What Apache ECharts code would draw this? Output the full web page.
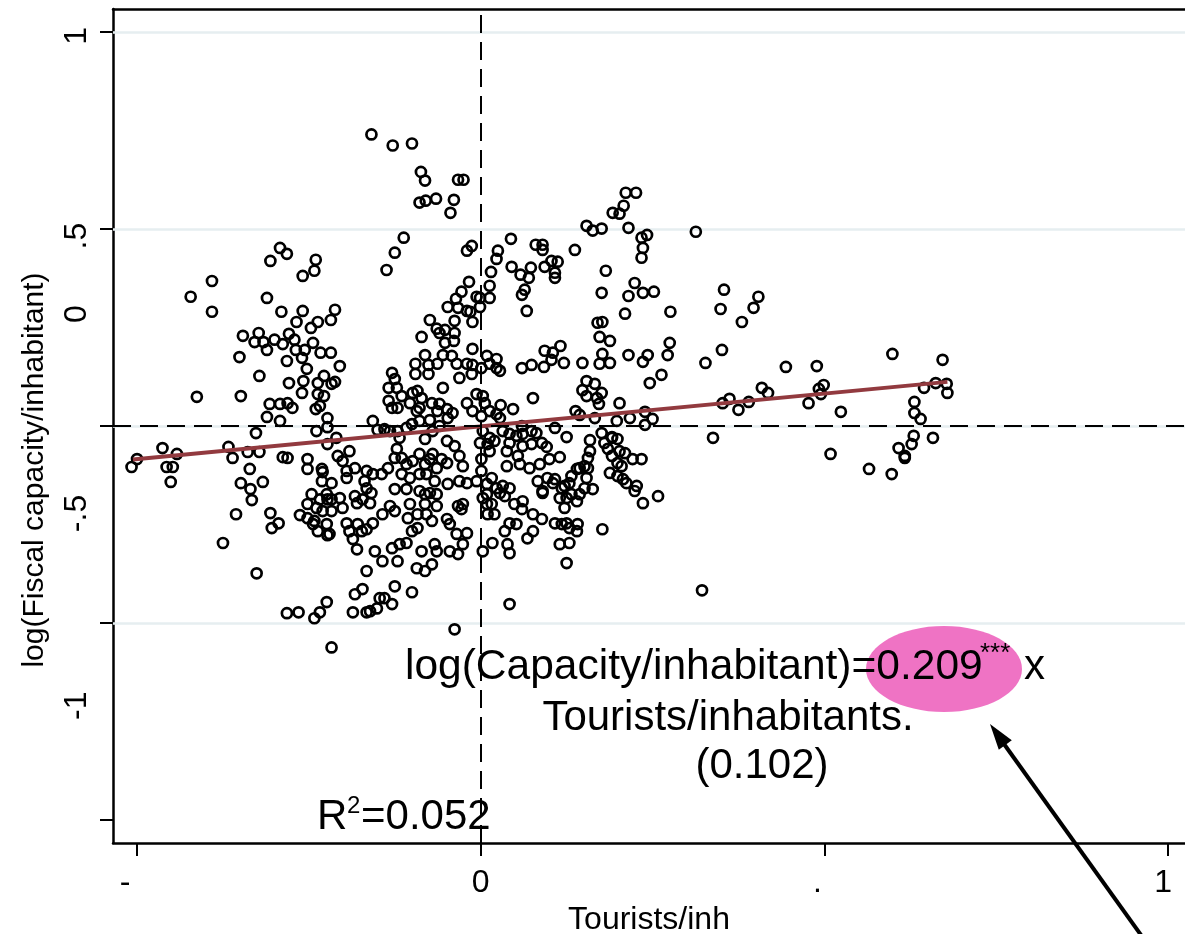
<!DOCTYPE html>
<html>
<head>
<meta charset="utf-8">
<script src="https://cdn.jsdelivr.net/npm/echarts@6/dist/echarts.min.js"></script>
<style>
html,body{margin:0;padding:0;background:#fff;}
#chart{width:1185px;height:934px;}
</style>
</head>
<body>
<div id="chart"></div>
<script>
// ---------------- DATA ----------------
// [tourists per inhabitant, log(fiscal capacity / inhabitant)]
const municipalities = [
[-0.159,0.740],[-0.128,0.712],[-0.100,0.717],[-0.087,0.645],[-0.081,0.623],[-0.033,0.625],[-0.025,0.625],
[-0.089,0.567],[-0.080,0.572],[-0.065,0.577],[-0.039,0.574],[-0.044,0.541],[-0.112,0.478],[-0.125,0.440],
[-0.137,0.396],[-0.020,0.445],[-0.013,0.457],
[-0.292,0.452],[-0.282,0.437],[-0.306,0.419],[-0.240,0.422],[-0.242,0.394],[-0.259,0.381],[-0.391,0.368],
[-0.422,0.328],[-0.391,0.290],[-0.311,0.325],[-0.290,0.290],[-0.259,0.292],[-0.268,0.264],[-0.212,0.295],
[-0.218,0.269],[-0.237,0.264],[-0.247,0.249],
[-0.346,0.229],[-0.323,0.236],[-0.329,0.213],[-0.316,0.213],[-0.300,0.219],[-0.288,0.208],[-0.279,0.234],
[-0.271,0.219],[-0.256,0.193],[-0.244,0.211],[-0.233,0.186],[-0.218,0.186],[-0.311,0.193],[-0.269,0.193],
[-0.351,0.175],[-0.282,0.165],[-0.260,0.173],[-0.253,0.145],[-0.205,0.152],[-0.322,0.127],[-0.279,0.109],
[-0.258,0.114],[-0.237,0.109],[-0.228,0.127],[-0.217,0.107],[-0.212,0.112],[-0.260,0.084],[-0.237,0.081],
[-0.228,0.076],[-0.413,0.074],[-0.349,0.076],
[-0.017,0.366],[-0.028,0.341],[-0.036,0.323],[-0.048,0.302],[-0.033,0.300],[-0.020,0.292],[-0.015,0.290],
[-0.006,0.328],[-0.001,0.325],[0.013,0.325],[0.013,0.356],[0.015,0.391],[0.023,0.424],[0.025,0.445],
[-0.001,0.302],[-0.012,0.264],[-0.038,0.267],[-0.052,0.244],[-0.064,0.247],[-0.074,0.269],
[0.044,0.475],[0.045,0.404],[0.058,0.384],[0.070,0.376],[0.073,0.402],[0.080,0.460],[0.090,0.460],
[0.090,0.447],[0.093,0.404],[0.103,0.419],[0.112,0.417],[0.108,0.389],[0.108,0.376],[0.137,0.447],
[0.154,0.508],[0.163,0.496],[0.176,0.501],[0.192,0.541],[0.202,0.539],[0.208,0.559],[0.211,0.592],
[0.226,0.592],[0.215,0.503],[0.234,0.478],[0.242,0.485],[0.236,0.452],[0.234,0.427],[0.313,0.493],
[0.182,0.394],[0.224,0.363],[0.236,0.338],[0.252,0.341],[0.215,0.330],[0.176,0.338],[0.210,0.285],
[0.276,0.290],[0.170,0.262],[0.177,0.264],[0.060,0.333],[0.064,0.346],[0.067,0.292],[0.349,0.297],
[0.354,0.346],[0.380,0.264],[0.397,0.300],[0.404,0.328],
[0.327,0.160],[0.351,0.193],[0.444,0.150],[0.489,0.152],[0.599,0.183],[0.672,0.168],[0.352,0.058],
[0.362,0.069],[0.375,0.041],[0.390,0.061],[0.409,0.097],[0.418,0.084],[0.477,0.058],[0.492,0.094],
[0.499,0.104],[0.495,0.081],[0.524,0.036],[0.645,0.097],[0.662,0.109],[0.678,0.107],[0.679,0.084],
[0.631,0.061],[0.631,0.033],[0.640,0.018],[0.338,-0.030],[0.509,-0.071],[0.565,-0.109],[0.598,-0.122],
[0.608,-0.056],[0.617,-0.076],[0.617,-0.081],[0.627,-0.046],[0.630,-0.025],[0.658,-0.030],[0.322,-0.417],
[-0.086,0.226],[-0.060,0.236],[-0.052,0.211],[-0.039,0.216],[-0.038,0.236],[-0.012,0.196],[0.009,0.178],
[0.023,0.170],[-0.081,0.180],[-0.095,0.158],[-0.095,0.132],[-0.076,0.155],[-0.076,0.132],[-0.063,0.158],
[-0.055,0.180],[-0.042,0.178],[-0.035,0.158],[-0.031,0.122],[-0.020,0.158],[-0.012,0.155],[-0.013,0.132],
[0.001,0.147],[0.013,0.158],[0.023,0.147],
[-0.129,0.135],[-0.125,0.119],[-0.134,0.097],[-0.122,0.097],[-0.115,0.076],[-0.134,0.064],[-0.129,0.046],
[-0.121,0.046],[-0.099,0.084],[-0.092,0.089],[-0.086,0.071],[-0.103,0.058],[-0.093,0.038],[-0.089,0.046],
[-0.071,0.058],[-0.063,0.038],[-0.060,0.056],[-0.049,0.043],[-0.041,0.033],[-0.048,0.020],[-0.055,0.097],
[-0.020,0.058],[-0.012,0.038],[-0.006,0.081],[0.003,0.076],[0.006,0.058],[0.001,0.025],[0.013,0.038],
[0.023,0.030],
[-0.157,0.013],[-0.150,-0.010],[-0.140,-0.008],[-0.132,-0.013],[-0.121,-0.013],[-0.118,-0.030],[-0.108,-0.005],
[-0.100,0.005],[-0.089,0.013],[-0.074,0.015],[-0.081,-0.033],[-0.070,-0.013],[-0.060,0.000],[-0.049,-0.038],
[-0.038,-0.051],[0.003,-0.013],[0.013,-0.030],[-0.001,-0.043],[0.010,-0.046],[0.020,-0.038],[-0.210,-0.030],
[-0.208,-0.076],[-0.191,-0.064],[-0.201,-0.089],[-0.183,-0.107],[-0.195,-0.114],[-0.195,-0.132],[-0.166,-0.114],
[-0.157,-0.122],[-0.169,-0.140],[-0.166,-0.158],[-0.144,-0.122],[-0.135,-0.107],[-0.125,-0.081],[-0.122,-0.058],
[-0.115,-0.081],[-0.108,-0.097],[-0.099,-0.089],[-0.089,-0.071],[-0.089,-0.122],[-0.081,-0.097],[-0.074,-0.084],
[-0.070,-0.071],[-0.064,-0.107],[-0.057,-0.084],[-0.049,-0.094],[-0.031,-0.076],[-0.026,-0.102],[-0.031,-0.140],
[-0.020,-0.145],[-0.006,-0.140],[0.001,-0.114],[0.001,-0.084],[0.013,-0.064],[0.016,-0.132],[0.009,-0.147],
[0.023,-0.158],[-0.067,-0.140],[-0.048,-0.147],[-0.079,-0.122],[-0.103,-0.132],[-0.115,-0.122],[-0.217,-0.145],
[-0.217,-0.186],[-0.205,-0.183],[-0.201,-0.208],[-0.183,-0.178],[-0.180,-0.196],[-0.172,-0.186],[-0.161,-0.196],
[-0.159,-0.170],[-0.125,-0.160],[-0.108,-0.160],[-0.089,-0.165],[-0.081,-0.173],[-0.074,-0.170],[-0.064,-0.173],
[-0.064,-0.203],[-0.081,-0.198],[-0.103,-0.198],[-0.092,-0.224],[-0.079,-0.224],[-0.106,-0.234],[-0.143,-0.224],
[-0.125,-0.216],[-0.132,-0.203],[-0.033,-0.203],[-0.028,-0.211],[-0.026,-0.198],[0.003,-0.183],[0.009,-0.198],
[0.010,-0.224],[0.016,-0.198],[0.020,-0.224],[0.009,-0.173],
[-0.195,-0.247],[-0.191,-0.267],[-0.186,-0.287],[-0.179,-0.249],[-0.173,-0.267],[-0.166,-0.262],[-0.157,-0.247],
[-0.180,-0.313],[-0.154,-0.318],[-0.129,-0.310],[-0.143,-0.343],[-0.121,-0.343],[-0.118,-0.300],[-0.108,-0.297],
[-0.100,-0.267],[-0.092,-0.259],[-0.086,-0.318],[-0.093,-0.361],[-0.081,-0.368],[-0.071,-0.351],[-0.071,-0.241],
[-0.067,-0.300],[-0.049,-0.236],[-0.045,-0.249],[-0.064,-0.318],[-0.045,-0.318],[-0.033,-0.325],[-0.026,-0.300],
[-0.020,-0.272],[-0.035,-0.274],[0.003,-0.318],[0.017,-0.297],[-0.220,-0.274],[-0.217,-0.216],
[-0.166,-0.368],[-0.183,-0.427],[-0.172,-0.414],[-0.147,-0.437],[-0.129,-0.452],[-0.125,-0.407],[-0.100,-0.422],
[-0.186,-0.473],[-0.166,-0.473],[-0.161,-0.470],[-0.151,-0.463],[-0.140,-0.437],[-0.038,-0.516],
[-0.307,0.056],[-0.292,0.056],[-0.281,0.058],[-0.274,0.046],[-0.311,0.023],[-0.292,0.013],[-0.327,-0.018],
[-0.463,-0.056],[-0.442,-0.071],[-0.500,-0.084],[-0.508,-0.104],[-0.457,-0.104],[-0.448,-0.104],[-0.451,-0.142],
[-0.367,-0.053],[-0.361,-0.081],[-0.339,-0.066],[-0.322,-0.066],[-0.336,-0.109],[-0.349,-0.145],[-0.335,-0.160],
[-0.333,-0.188],[-0.317,-0.142],[-0.288,-0.079],[-0.281,-0.081],[-0.356,-0.224],[-0.306,-0.221],[-0.294,-0.247],
[-0.304,-0.259],[-0.375,-0.297],[-0.326,-0.374],[-0.282,-0.475],[-0.265,-0.473],[-0.242,-0.488],[-0.234,-0.473],
[-0.224,-0.447],[-0.234,0.051],[-0.240,0.043],[-0.223,0.020],[-0.223,-0.003],[-0.239,-0.013],[-0.223,-0.046],
[-0.252,-0.084],[-0.252,-0.109],[-0.231,-0.109],[-0.230,-0.117],[-0.231,-0.140],[-0.246,-0.173],[-0.252,-0.198],
[-0.224,-0.173],[-0.223,-0.186],[-0.234,-0.186],[-0.239,-0.208],[-0.230,-0.216],[-0.263,-0.226],[-0.252,-0.234],
[-0.242,-0.241],[-0.244,-0.249],[-0.224,-0.249],[-0.237,-0.267],[-0.223,-0.277],[-0.217,-0.562],
[0.173,0.226],[0.188,0.216],[0.093,0.191],[0.105,0.186],[0.116,0.203],[0.103,0.168],[0.121,0.160],
[0.092,0.150],[0.074,0.155],[0.060,0.147],[0.028,0.140],[0.148,0.160],[0.177,0.183],[0.173,0.158],
[0.188,0.160],[0.215,0.180],[0.236,0.163],[0.243,0.180],[0.275,0.211],[0.272,0.180],[0.263,0.130],
[0.246,0.109],[0.154,0.114],[0.166,0.107],[0.148,0.091],[0.154,0.076],[0.176,0.084],[0.169,0.071],
[0.172,0.056],[0.076,0.071],[0.029,0.053],[0.047,0.043],[0.028,0.020],[0.202,0.058],[0.138,0.038],
[0.144,0.028],[0.166,0.020],[0.198,0.013],[0.217,0.020],[0.239,0.036],[0.250,0.018],[0.239,0.003],
[0.060,0.000],[0.108,-0.005],[0.125,-0.028],[0.159,-0.036],[0.176,-0.018],[0.191,-0.028],
[0.032,-0.013],[0.042,-0.020],[0.052,-0.025],[0.061,-0.020],[0.074,-0.013],[0.081,-0.018],[0.042,-0.043],
[0.061,-0.051],[0.074,-0.046],[0.089,-0.043],[0.096,-0.053],[0.038,-0.064],[0.054,-0.076],[0.057,-0.097],
[0.071,-0.107],[0.038,-0.102],[0.032,-0.152],[0.042,-0.158],[0.028,-0.170],[0.035,-0.178],[0.049,-0.198],
[0.061,-0.191],[0.060,-0.211],[0.076,-0.224],[0.089,-0.236],[0.076,-0.267],[0.068,-0.285],[0.052,-0.249],
[0.042,-0.247],[0.035,-0.267],[0.039,-0.300],[0.042,-0.323],[0.083,-0.140],[0.097,-0.132],[0.105,-0.145],
[0.090,-0.165],[0.100,-0.084],[0.115,-0.079],[0.086,-0.097],
[0.159,-0.064],[0.156,-0.081],[0.151,-0.102],[0.144,-0.107],[0.140,-0.109],[0.132,-0.127],[0.129,-0.145],
[0.122,-0.152],[0.118,-0.158],[0.115,-0.183],[0.125,-0.183],[0.122,-0.208],[0.132,-0.173],[0.140,-0.191],
[0.144,-0.173],[0.151,-0.158],[0.154,-0.132],[0.156,-0.107],[0.163,-0.160],[0.108,-0.247],[0.118,-0.249],
[0.125,-0.247],[0.129,-0.259],[0.141,-0.249],[0.140,-0.267],[0.115,-0.300],[0.129,-0.297],[0.125,-0.348],
[0.177,-0.262],[0.090,-0.170],[0.108,-0.135],
[0.180,-0.043],[0.191,-0.030],[0.199,-0.033],[0.185,-0.058],[0.191,-0.076],[0.202,-0.064],[0.210,-0.069],
[0.199,-0.094],[0.205,-0.102],[0.221,-0.084],[0.234,-0.084],[0.188,-0.119],[0.199,-0.127],[0.207,-0.135],
[0.212,-0.145],[0.227,-0.152],[0.224,-0.165],[0.236,-0.196],[0.258,-0.178],[0.042,-0.452]
];

// fitted line (two end points)
const fitLine = [[-0.506, -0.085], [0.679, 0.112]];

// axes
const xTickValues = [-0.5, 0, 0.5, 1];
const xTickLabels = ['-', '0', '.', '1'];
const yTickValues = [-1, -0.5, 0, 0.5, 1];
const yLabelValues = [0.99, 0.482, 0.284, -0.222, -0.710];
const yLabelTexts = ['1', '.5', '0', '-.5', '-1'];
const gridLineValues = [1, 0.5, 0, -0.5];

const xTitle = 'Tourists/inh';
const yTitle = 'log(Fiscal capacity/inhabitant)';
const eqLine1 = 'log(Capacity/inhabitant)=0.209';
const eqStars = '***';
const eqX = 'x';
const eqLine2 = 'Tourists/inhabitants.';
const eqLine3 = '(0.102)';
const r2Text = ['R', '2', '=0.052'];

// ---------------- CHART ----------------
const FONT = '"Liberation Sans", Arial, Helvetica, sans-serif';
const chart = echarts.init(document.getElementById('chart'), null, {renderer: 'canvas'});

const xLabelStyle = {fontFamily: FONT, fontSize: 32, color: '#000'};

const option = {
  backgroundColor: '#fff',
  animation: false,
  grid: {
    left: 113, top: 9, width: 1072, height: 834,
    outerBoundsMode: 'none', containLabel: false, show: false
  },
  xAxis: [{
    type: 'value', min: -0.535, max: 1.0247,
    axisLine: {show: true, onZero: false, lineStyle: {color: '#000', width: 2.5}},
    axisTick: {show: true, customValues: xTickValues, length: 13, lineStyle: {color: '#000', width: 2}},
    axisLabel: {
      show: true, customValues: xTickValues, margin: 24,
      fontFamily: FONT, fontSize: 32, color: '#000',
      formatter: function (v) {
        const i = xTickValues.findIndex(t => Math.abs(t - v) < 1e-6);
        const s = i >= 0 ? xTickLabels[i] : '';
        return '{p' + i + '|' + s + '}';
      },
      rich: {
        p0: Object.assign({padding: [0, 24, 0, 0]}, xLabelStyle),
        p1: Object.assign({padding: [0, 0, 0, 0]}, xLabelStyle),
        p2: Object.assign({padding: [0, 14, 0, 0]}, xLabelStyle),
        p3: Object.assign({padding: [0, 10, 0, 0]}, xLabelStyle)
      }
    },
    splitLine: {show: false},
    name: xTitle, nameLocation: 'middle', nameGap: 58,
    nameTextStyle: {fontFamily: FONT, fontSize: 32, color: '#000'}
  }, {
    type: 'value', position: 'top', min: -0.535, max: 1.0247,
    axisLine: {show: true, onZero: false, lineStyle: {color: '#000', width: 2.5}},
    axisTick: {show: false}, axisLabel: {show: false}, splitLine: {show: false}
  }],
  yAxis: {
    type: 'value', min: -1.0584, max: 1.0584,
    axisLine: {show: true, onZero: false, lineStyle: {color: '#000', width: 2.5}},
    axisTick: {show: true, customValues: yTickValues, length: 13, lineStyle: {color: '#000', width: 2}},
    axisLabel: {
      show: true, customValues: yLabelValues, rotate: 90, margin: 20,
      fontFamily: FONT, fontSize: 32, color: '#000',
      formatter: function (v) {
        let best = 0, bd = 1e9;
        yLabelValues.forEach((t, i) => { const d = Math.abs(t - v); if (d < bd) { bd = d; best = i; } });
        return yLabelTexts[best];
      }
    },
    splitLine: {show: false}
  },
  series: [
    {
      type: 'scatter',
      data: municipalities,
      symbol: 'circle',
      symbolSize: 10,
      itemStyle: {color: 'rgba(255,255,255,0)', borderColor: '#000', borderWidth: 2.7, opacity: 1},
      z: 3,
      silent: true,
      markLine: {
        silent: true, symbol: 'none', animation: false,
        label: {show: false},
        data: gridLineValues.map(v => ({yAxis: v, lineStyle: {color: '#e6eef0', width: 2.5, type: 'solid'}})),
        z: 1
      }
    },
    {
      type: 'line',
      data: [],
      silent: true,
      z: 2,
      markLine: {
        silent: true, symbol: 'none', animation: false,
        label: {show: false},
        lineStyle: {color: '#000', width: 2, type: [18, 9]},
        data: [{xAxis: 0}, {yAxis: 0}]
      }
    },
    {
      type: 'line',
      data: fitLine,
      showSymbol: false,
      symbol: 'none',
      lineStyle: {color: '#923a3f', width: 4},
      z: 4,
      silent: true
    }
  ],
  graphic: [
    {type: 'text', x: 35, y: 470, rotation: Math.PI / 2,
     style: {text: yTitle, font: '30px ' + FONT, fill: '#000', textAlign: 'center', textVerticalAlign: 'middle', verticalAlign: 'middle'}},
    {type: 'ellipse', shape: {cx: 944, cy: 669, rx: 78, ry: 43}, style: {fill: '#ef73c4'}, z: 50},
    {type: 'text', x: 405, y: 667, z: 60,
     style: {text: eqLine1, font: '42.5px ' + FONT, fill: '#000', textAlign: 'left', textVerticalAlign: 'middle', verticalAlign: 'middle'}},
    {type: 'text', x: 980, y: 654, z: 60,
     style: {text: eqStars, font: '26px ' + FONT, fill: '#000', textAlign: 'left', textVerticalAlign: 'middle', verticalAlign: 'middle'}},
    {type: 'text', x: 1024, y: 667, z: 60,
     style: {text: eqX, font: '42px ' + FONT, fill: '#000', textAlign: 'left', textVerticalAlign: 'middle', verticalAlign: 'middle'}},
    {type: 'text', x: 728, y: 718, z: 60,
     style: {text: eqLine2, font: '42px ' + FONT, fill: '#000', textAlign: 'center', textVerticalAlign: 'middle', verticalAlign: 'middle'}},
    {type: 'text', x: 762, y: 766, z: 60,
     style: {text: eqLine3, font: '42px ' + FONT, fill: '#000', textAlign: 'center', textVerticalAlign: 'middle', verticalAlign: 'middle'}},
    {type: 'text', x: 317, y: 817, z: 60,
     style: {text: r2Text[0], font: '42px ' + FONT, fill: '#000', textAlign: 'left', textVerticalAlign: 'middle', verticalAlign: 'middle'}},
    {type: 'text', x: 347, y: 806, z: 60,
     style: {text: r2Text[1], font: '24px ' + FONT, fill: '#000', textAlign: 'left', textVerticalAlign: 'middle', verticalAlign: 'middle'}},
    {type: 'text', x: 361, y: 817, z: 60,
     style: {text: r2Text[2], font: '42px ' + FONT, fill: '#000', textAlign: 'left', textVerticalAlign: 'middle', verticalAlign: 'middle'}},
    {type: 'line', z: 60, shape: {x1: 1146, y1: 942, x2: 1004, y2: 744}, style: {stroke: '#000', lineWidth: 4}},
    {type: 'polygon', z: 60, shape: {points: [[990, 724], [1011.8, 740.3], [998.8, 749.7]]}, style: {fill: '#000'}}
  ]
};

chart.setOption(option);
</script>
</body>
</html>
